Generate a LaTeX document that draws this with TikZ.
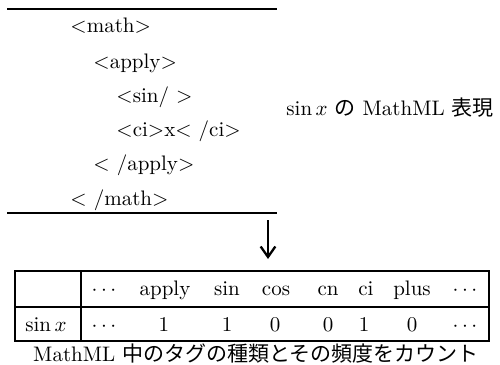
\documentclass[tikz,border=0pt]{standalone}
\usepackage{fontspec}
\newfontfamily\cjk{Noto Sans CJK JP}
\usetikzlibrary{arrows.meta}
\begin{document}
\begin{tikzpicture}[x=0.476pt,y=-0.476pt,
  codeline/.style={anchor=base west, inner sep=0pt},
  cell/.style={anchor=base, inner sep=0pt},
  rule/.style={line width=0.5pt},
  bigarrow/.style={line width=1.2pt, -{Straight Barb[length=5pt,width=7pt,line width=1.1pt]}}]
\useasboundingbox (0,0) rectangle (500,365);
% code block rules
\coordinate (t1) at (7,9); \coordinate (t2) at (277,9);
\coordinate (b1) at (7,213); \coordinate (b2) at (277,213);
\draw[rule] (t1) -- (t2);
\draw[rule] (b1) -- (b2);
\node[codeline] (l1) at (70,33) {$<$math$>$};
\node[codeline] (l2) at (93,68) {$<$apply$>$};
\node[codeline] (l3) at (116,102) {$<$sin/ $>$};
\node[codeline] (l4) at (116,136) {$<$ci$>$x$<$ /ci$>$};
\node[codeline] (l5) at (93,170) {$<$ /apply$>$};
\node[codeline] (l6) at (70,205) {$<$ /math$>$};
\node[codeline] (lab) at (286,115) {$\sin x$ {\cjk の} MathML {\cjk 表現}};
% arrow
\coordinate (a1) at (268,220);
\coordinate (a2) at (268,259);
\draw[bigarrow] (a1) -- (a2);
% table
\coordinate (tl) at (15,271); \coordinate (br) at (489,341);
\draw[rule] (tl) rectangle (br);
\coordinate (m1) at (15,307); \coordinate (m2) at (489,307);
\draw[rule] (m1) -- (m2);
\coordinate (d1) at (81,271); \coordinate (d2) at (81,341);
\draw[rule] (d1) -- (d2);
% header row
\node[cell] (h1) at (104,295) {$\cdots$};
\node[cell] (h2) at (165,295) {apply};
\node[cell] (h3) at (227,295) {sin};
\node[cell] (h4) at (276,295) {cos};
\node[cell] (h5) at (328,295) {cn};
\node[cell] (h6) at (366,295) {ci};
\node[cell] (h7) at (412,295) {plus};
\node[cell] (h8) at (465,295) {$\cdots$};
% value row
\node[cell] (r0) at (46,331) {$\sin x$};
\node[cell] (r1) at (104,331) {$\cdots$};
\node[cell] (r2) at (164,331) {1};
\node[cell] (r3) at (227,331) {1};
\node[cell] (r4) at (275,331) {0};
\node[cell] (r5) at (328,331) {0};
\node[cell] (r6) at (364,331) {1};
\node[cell] (r7) at (412,331) {0};
\node[cell] (r8) at (465,331) {$\cdots$};
% caption
\node[cell] (cap) at (256,361) {MathML {\cjk 中のタグの種類とその頻度をカウント}};
\end{tikzpicture}
\end{document}
